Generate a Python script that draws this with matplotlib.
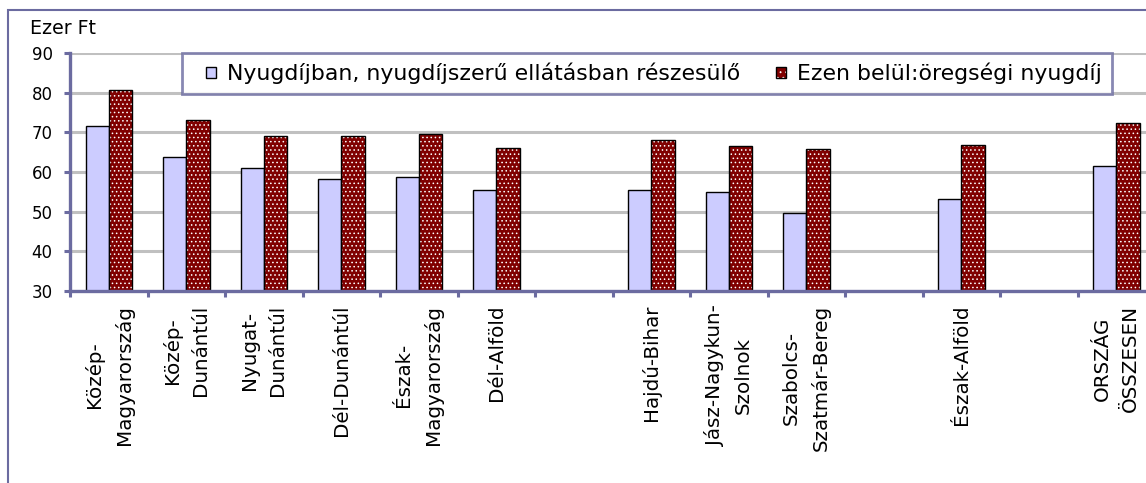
import numpy as np
import matplotlib
matplotlib.use("Agg")
from matplotlib import pyplot as plt
from matplotlib import patches as mpatches
from matplotlib.legend_handler import HandlerPatch

# regions (empty strings = blank slots in the original chart)
regions = [
    "Közép-\nMagyarország", "Közép-\nDunántúl", "Nyugat-\nDunántúl", "Dél-Dunántúl",
    "Észak-\nMagyarország", "Dél-Alföld", "", "Hajdú-Bihar", "Jász-Nagykun-\nSzolnok",
    "Szabolcs-\nSzatmár-Bereg", "", "Észak-Alföld", "", "ORSZÁG\nÖSSZESEN",
]
# Ezer Ft, None where the slot is empty
osszes = [71.5, 63.8, 60.9, 58.3, 58.8, 55.4, None, 55.4, 54.9, 49.7, None, 53.2, None, 61.4]
oregsegi = [80.6, 73.1, 69.0, 69.0, 69.6, 66.0, None, 68.1, 66.6, 65.9, None, 66.9, None, 72.4]

series_names = ["Nyugdíjban, nyugdíjszerű ellátásban részesülő", "Ezen belül:öregségi nyugdíj"]
y_ticks = [30, 40, 50, 60, 70, 80, 90]

W, H = 1146, 483
FRAME = "#6B6BA0"
BLUE = "#CCCCFF"
RED = "#800000"

plt.rcParams["font.family"] = ["DejaVu Sans"]
plt.rcParams["hatch.linewidth"] = 0.6

fig = plt.figure(figsize=(W / 100, H / 100), dpi=100)
# plot area runs a bit past the right edge, as in the original
ax = fig.add_axes([70 / W, (H - 291) / H, (1155 - 70) / W, (291 - 53) / H])

idx = [i for i, v in enumerate(osszes) if v is not None]
x = np.array(idx, dtype=float)
v1 = [osszes[i] for i in idx]
v2 = [oregsegi[i] for i in idx]
bw = 0.3
base = y_ticks[0]

ax.bar(x - bw / 2, np.array(v1) - base, bw, bottom=base, color=BLUE,
       edgecolor="black", linewidth=1.0, zorder=3)
ax.bar(x + bw / 2, np.array(v2) - base, bw, bottom=base, color=RED,
       edgecolor="white", linewidth=0, hatch="....", zorder=3)
ax.bar(x + bw / 2, np.array(v2) - base, bw, bottom=base, fill=False,
       edgecolor="black", linewidth=1.0, zorder=4)

ax.set_xlim(-0.5, len(regions) - 0.5)
ax.set_ylim(30, 90)
ax.set_yticks(y_ticks)
ax.tick_params(axis="y", labelsize=12, length=4.5, width=2.2, color=FRAME, pad=8)

ax.set_xticks(np.arange(len(regions)))
ax.set_xticklabels(regions, rotation=90, ha="center", va="top", ma="center",
                   fontsize=14.3, linespacing=1.6)
ax.set_xticks(np.arange(len(regions) + 1) - 0.5, minor=True)
ax.tick_params(axis="x", which="major", length=0, pad=10)
ax.tick_params(axis="x", which="minor", length=4.5, width=2.2, color=FRAME)

ax.yaxis.grid(True, color="#C0C0C0", linewidth=2.2)
ax.set_axisbelow(True)
for s in ["top", "right"]:
    ax.spines[s].set_visible(False)
for s in ["left", "bottom"]:
    ax.spines[s].set_color(FRAME)
    ax.spines[s].set_linewidth(2.4)
    ax.spines[s].set_zorder(5)

fig.text(30 / W, 1 - 34 / H, "Ezer Ft", fontsize=13.7, va="baseline", ha="left")

# outer chart frame
fig.patches.append(mpatches.Rectangle((8 / W, -0.2), 2, 1.2 - 10 / H, transform=fig.transFigure,
                                      fill=False, edgecolor=FRAME, linewidth=1.5))


# small square legend keys at the right end of the key box
def small_square(legend, orig_handle, xdescent, ydescent, width, height, fontsize):
    s = 7.5
    return mpatches.Rectangle((-xdescent + width - s, -ydescent + (height - s) / 2), s, s)


h1 = mpatches.Patch(facecolor=BLUE, edgecolor="black", linewidth=1.0)
h2a = mpatches.Patch(facecolor=RED, edgecolor="white", linewidth=0, hatch="...")
h2b = mpatches.Patch(fill=False, edgecolor="black", linewidth=1.0)
leg = fig.legend([h1, (h2a, h2b)], series_names, loc="upper left",
                 bbox_to_anchor=(182 / W, 1 - 53 / H), bbox_transform=fig.transFigure,
                 ncol=2, fontsize=15.8, frameon=True, fancybox=False, borderaxespad=0,
                 borderpad=0.45, handlelength=1.1, handleheight=0.7, handletextpad=0.5,
                 columnspacing=1.0,
                 handler_map={mpatches.Patch: HandlerPatch(patch_func=small_square)})
leg.get_frame().set_edgecolor(FRAME)
leg.get_frame().set_linewidth(2.0)
leg.set_zorder(10)

fig.savefig("out.png", dpi=100)
